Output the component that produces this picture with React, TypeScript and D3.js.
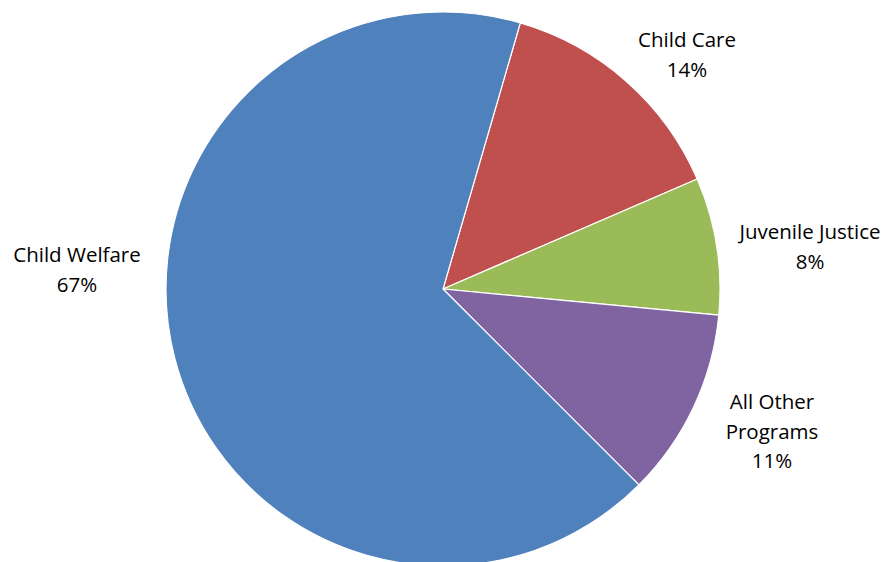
import React from "react";
import * as d3 from "d3";

const categories = ["Child Care", "Juvenile Justice", "All Other Programs", "Child Welfare"];
const values = [14, 8, 11, 67];
const colors = ["#C0504D", "#9BBB59", "#8064A2", "#4F81BD"];
const labelLines = [["Child Care", "14%"], ["Juvenile Justice", "8%"], ["All Other", "Programs", "11%"], ["Child Welfare", "67%"]];
const labelPos = [[687, 40], [810, 232], [772, 402], [77, 255]];

export default function App() {
  const W = 894, H = 562;
  const cx = 443, cy = 289, r = 277;
  const start = (16.2 * Math.PI) / 180;
  const pie = d3.pie<number>().sort(null).value((d) => d).startAngle(start).endAngle(start + 2 * Math.PI);
  const arcs = pie(values);
  const arc = d3.arc<d3.PieArcDatum<number>>().innerRadius(0).outerRadius(r);
  return (
    <svg width={W} height={H} style={{ position: "absolute", left: 0, top: 0, background: "#fff" }}
      fontFamily="'Open Sans', sans-serif">
      <g transform={`translate(${cx},${cy})`}>
        {arcs.map((a, i) => (
          <path key={categories[i]} d={arc(a) || ""} fill={colors[i]} stroke="#fff" strokeWidth={1.2} />
        ))}
      </g>
      {labelLines.map((lines, i) => (
        <text key={i} textAnchor="middle" fontSize={20.5} fill="#000">
          {lines.map((t, j) => (
            <tspan key={j} x={labelPos[i][0]} y={labelPos[i][1] + j * 29.5} dy="0.35em">{t}</tspan>
          ))}
        </text>
      ))}
    </svg>
  );
}
